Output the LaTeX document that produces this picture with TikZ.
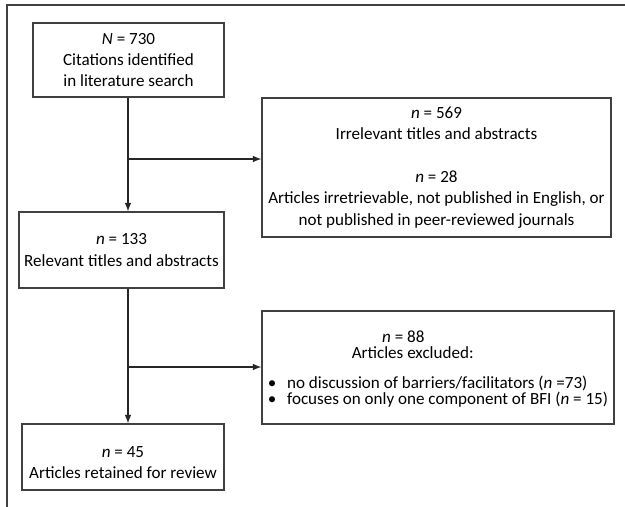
\documentclass[tikz,border=0pt]{standalone}
\usepackage{fontspec}
\setmainfont{Carlito}
\usetikzlibrary{arrows, positioning, calc}
\definecolor{framegray}{RGB}{64, 64, 64}

\begin{document}
\begin{tikzpicture}[x=0.75pt, y=-0.75pt]
    \tikzstyle{stage} = [rectangle, draw=framegray, line width=0.9pt, align=center, inner sep=0pt, font=\fontsize{12.8}{16}\selectfont]
    \tikzstyle{flow} = [draw, black!85, line width=1.2pt, -latex]

    \useasboundingbox (0,0) rectangle (625,507);
    % open frame
    \draw[framegray, line width=0.9pt] (625,5) -- (7,5) -- (7,507);

    \node[stage, minimum width=143.3pt, minimum height=55.5pt] (found) at (128.5,60)
        {\textit{N} = 730\\Citations identified\\in literature search};
    \node[stage, minimum width=153.8pt, minimum height=57pt] (relevant) at (121.5,250)
        {\textit{n} = 133\\Relevant titles and abstracts};
    \node[stage, minimum width=151.5pt, minimum height=49.5pt] (retained) at (123,457)
        {\rule{0pt}{17pt}\textit{n} = 45\\Articles retained for review};
    \node[stage, minimum width=261.8pt, minimum height=104.3pt] (irrel) at (436.5,167.5)
        {\textit{n} = 569\\Irrelevant titles and abstracts\\[16pt]\textit{n} = 28\\Articles irretrievable, not published in English, or\\not published in peer-reviewed journals};
    \node[stage, minimum width=264pt, minimum height=84.8pt, font=\fontsize{12.8}{12}\selectfont] (excl) at (438,367.5)
        {\begin{tabular}{@{}l@{\hspace{8pt}}l@{}}
            \multicolumn{2}{c}{\hspace{-52pt}\rule{0pt}{13pt}\textit{n} = 88}\\[-1pt]
            \multicolumn{2}{c}{\hspace{-38pt}Articles excluded:}\\[10pt]
            \textbullet & no discussion of barriers/facilitators (\textit{n} =73)\\[-1pt]
            \textbullet & focuses on only one component of BFI (\textit{n} = 15)
        \end{tabular}};

    \coordinate (j1) at (128,159);
    \coordinate (j2) at (128,367);

    \draw[flow] (found.south -| j1) -- (j1 |- relevant.north);
    \draw[flow] (j1) -- (j1 -| irrel.west);
    \draw[flow] (relevant.south -| j2) -- (j2 |- retained.north);
    \draw[flow] (j2) -- (j2 -| excl.west);
\end{tikzpicture}
\end{document}
